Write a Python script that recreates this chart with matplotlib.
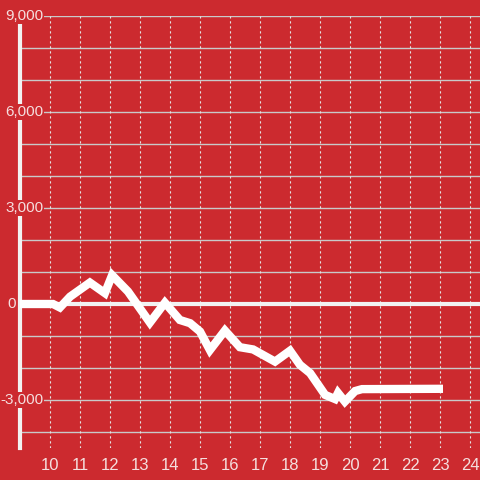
import matplotlib
matplotlib.use("Agg")
import matplotlib.pyplot as plt

plt.rcParams["font.family"] = ["Liberation Sans", "DejaVu Sans"]

BG = "#cc2a2f"

hours = [9.0, 10.1, 10.33, 10.67, 11.33, 11.83, 12.07, 12.6, 13.33, 13.83,
         14.33, 14.67, 15.0, 15.33, 15.83, 16.33, 16.77, 17.5, 18.0, 18.33,
         18.67, 19.17, 19.5, 19.6, 19.83, 20.17, 20.4, 23.1]
values = [0, 0, -110, 230, 670, 340, 900, 390, -580, 40,
          -500, -600, -860, -1440, -830, -1350, -1420, -1800, -1460, -1900,
          -2160, -2840, -2970, -2780, -3050, -2720, -2660, -2650]

x_ticks = list(range(10, 25))
y_ticks = [-3000, 0, 3000, 6000, 9000]
y_labels = ["-3,000", "0", "3,000", "6,000", "9,000"]

fig = plt.figure(figsize=(4.8, 4.8), dpi=100, facecolor=BG)
ax = fig.add_axes([20 / 480, 32 / 480, 460 / 480, 432 / 480])
ax.set_facecolor(BG)
ax.set_xlim(9.0, 24.333)
ax.set_ylim(-4500, 9000)

for v in range(-4000, 9001, 1000):
    ax.axhline(v, color="#c9c9c9", lw=1.0, zorder=1)
for h in x_ticks:
    ax.axvline(h, color="#e4e4e4", lw=0.8, ls=(0, (2, 2.5)), zorder=1)
ax.axhline(0, color="#f2f2f2", lw=3, zorder=2)

ax.plot(hours, values, color="white", lw=6, solid_joinstyle="miter",
        solid_capstyle="butt", zorder=3)

for s in ["top", "right", "bottom"]:
    ax.spines[s].set_visible(False)
ax.spines["left"].set_color("#f2f2f2")
ax.spines["left"].set_linewidth(3)
ax.spines["left"].set_zorder(2)

ax.set_xticks(x_ticks)
ax.set_xticklabels([str(h) for h in x_ticks])
ax.set_yticks([])
ax.tick_params(axis="x", length=0, pad=7, labelsize=12, colors="#f5dede")

for v, lab in zip(y_ticks, y_labels):
    if v == 0:
        ax.text(8.87, v, lab, ha="right", va="center", fontsize=11,
                color="#f5dede", zorder=5, clip_on=False)
    else:
        ax.text(9.78, v, lab, ha="right", va="center", fontsize=11,
                color="#f5dede", zorder=5,
                bbox=dict(facecolor=BG, edgecolor="none", pad=0.5))

fig.savefig("out.png", dpi=100, facecolor=BG)
